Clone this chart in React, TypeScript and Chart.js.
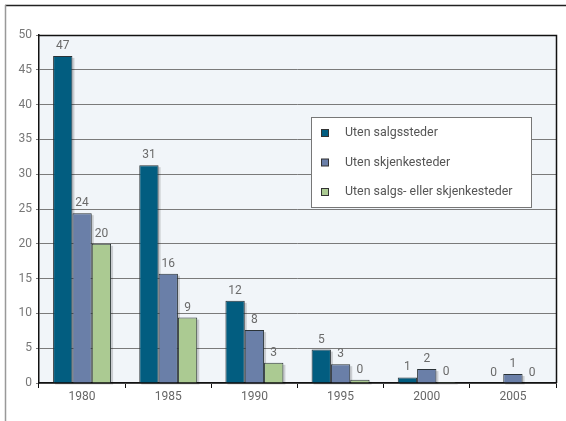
import React, { useEffect, useRef } from "react";
import { Chart, registerables } from "chart.js";

Chart.register(...registerables);

const categories = ["1980", "1985", "1990", "1995", "2000", "2005"];
const seriesNames = ["Uten salgssteder", "Uten skjenkesteder", "Uten salgs- eller skjenkesteder"];
const salgssteder = [47.0, 31.3, 11.8, 4.8, 0.8, 0];
const skjenkesteder = [24.4, 15.7, 7.6, 2.7, 2.0, 1.3];
const begge = [20.0, 9.4, 2.9, 0.45, 0.15, 0];
const yTicks = [0, 5, 10, 15, 20, 25, 30, 35, 40, 45, 50];

const colors = ["#025d80", "#6a7fa8", "#abca92"];
const FONT = "Roboto, 'DejaVu Sans', sans-serif";

export default function App() {
  const ref = useRef<HTMLCanvasElement | null>(null);
  useEffect(() => {
    if (!ref.current) return;
    const decor = {
      id: "decor",
      beforeDraw(chart: any) {
        const { ctx, chartArea: a } = chart;
        ctx.save();
        ctx.fillStyle = "#ffffff";
        ctx.fillRect(0, 0, chart.width, chart.height);
        ctx.fillStyle = "#f1f5f9";
        ctx.fillRect(a.left, a.top, a.right - a.left, a.bottom - a.top);
        // outer frame
        ctx.strokeStyle = "#222";
        ctx.lineWidth = 1.5;
        ctx.beginPath();
        ctx.moveTo(5, 5.5);
        ctx.lineTo(chart.width, 5.5);
        ctx.stroke();
        ctx.strokeStyle = "#999";
        ctx.lineWidth = 1.5;
        ctx.beginPath();
        ctx.moveTo(5.5, 5);
        ctx.lineTo(5.5, chart.height);
        ctx.stroke();
        ctx.restore();
      },
      beforeDatasetsDraw(chart: any) {
        const { ctx } = chart;
        ctx.save();
        ctx.fillStyle = "rgba(0,0,0,0.16)";
        chart.data.datasets.forEach((ds: any, i: number) => {
          const meta = chart.getDatasetMeta(i);
          meta.data.forEach((bar: any) => {
            const h = bar.base - bar.y;
            if (h <= 0) return;
            const left = bar.x - bar.width / 2;
            ctx.fillRect(left + 2, bar.y + 2, bar.width, h);
          });
        });
        ctx.restore();
      },
      afterDatasetsDraw(chart: any) {
        const { ctx, chartArea: a } = chart;
        ctx.save();
        // plot borders top and right
        ctx.strokeStyle = "#111";
        ctx.lineWidth = 1.5;
        ctx.beginPath();
        ctx.moveTo(a.left, a.top + 0.5);
        ctx.lineTo(a.right + 0.5, a.top + 0.5);
        ctx.lineTo(a.right + 0.5, a.bottom);
        ctx.stroke();
        // data labels
        ctx.fillStyle = "#6a6a6a";
        ctx.font = "12px " + FONT;
        ctx.textAlign = "center";
        ctx.textBaseline = "bottom";
        chart.data.datasets.forEach((ds: any, i: number) => {
          const meta = chart.getDatasetMeta(i);
          meta.data.forEach((bar: any, j: number) => {
            const v = ds.data[j];
            ctx.fillText(String(Math.round(v)), bar.x, bar.y - 4);
          });
        });
        // legend
        const lx = 311, ly = 117, lw = 220, lh = 90;
        ctx.fillStyle = "#ffffff";
        ctx.fillRect(lx, ly, lw, lh);
        ctx.strokeStyle = "#777";
        ctx.lineWidth = 1;
        ctx.strokeRect(lx + 0.5, ly + 0.5, lw, lh);
        ctx.textAlign = "left";
        ctx.textBaseline = "middle";
        ctx.font = "12.4px " + FONT;
        chart.data.datasets.forEach((ds: any, i: number) => {
          const cy = 133 + i * 29.5;
          ctx.fillStyle = ds.backgroundColor;
          ctx.fillRect(321, cy - 3.5, 7, 7);
          ctx.strokeStyle = "#333";
          ctx.strokeRect(321.5, cy - 3.5, 7, 7);
          ctx.fillStyle = "#555";
          ctx.fillText(ds.label, 345, cy);
        });
        ctx.restore();
      },
    };

    const chart = new Chart(ref.current, {
      type: "bar",
      data: {
        labels: categories,
        datasets: [salgssteder, skjenkesteder, begge].map((d, i) => ({
          label: seriesNames[i],
          data: d,
          backgroundColor: colors[i],
          borderColor: "#2b3338",
          borderWidth: 1,
          borderSkipped: "bottom",
          barPercentage: 1,
          categoryPercentage: 0.673,
        })),
      },
      options: {
        animation: false,
        responsive: false,
        maintainAspectRatio: false,
        layout: { padding: { top: 35, right: 10, left: 0, bottom: 0 } },
        plugins: { legend: { display: false }, tooltip: { enabled: false } },
        scales: {
          x: {
            offset: true,
            grid: {
              offset: true,
              drawOnChartArea: false,
              drawTicks: true,
              tickLength: 5,
              color: "#111",
            },
            border: { color: "#111", width: 1.5 },
            ticks: { color: "#666", font: { size: 12, family: FONT }, padding: 2 },
            afterFit(scale: any) {
              scale.height = 38;
            },
          },
          y: {
            min: 0,
            max: 50,
            afterBuildTicks(scale: any) {
              scale.ticks = yTicks.map((v) => ({ value: v }));
            },
            grid: { color: "#7a7a7a", lineWidth: 1, tickLength: 3 },
            border: { color: "#111", width: 1.5 },
            ticks: { color: "#777", font: { size: 12, family: FONT }, padding: 4 },
            afterFit(scale: any) {
              scale.width = 39;
            },
          },
        },
      },
      plugins: [decor],
    });
    return () => chart.destroy();
  }, []);
  return (
    <div style={{ position: "fixed", left: 0, top: 0, width: 566, height: 421 }}>
      <canvas ref={ref} width={566} height={421} style={{ width: 566, height: 421 }} />
    </div>
  );
}
